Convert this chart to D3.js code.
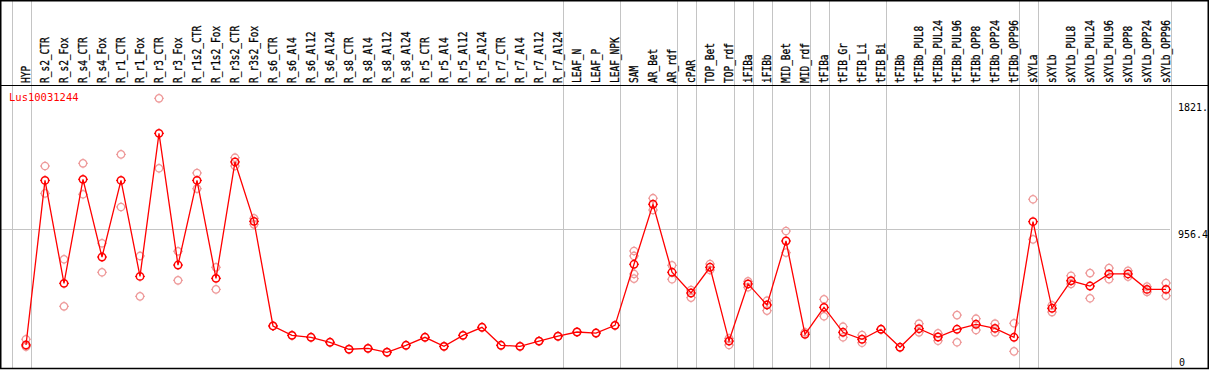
<!DOCTYPE html>
<html><head><meta charset="utf-8">
<script src="https://cdn.jsdelivr.net/npm/d3@7"></script>
<style>
html,body{margin:0;padding:0;background:#fff;}
svg{display:block;}
text{font-family:"DejaVu Sans Mono","Liberation Mono",monospace;}
</style></head>
<body>
<svg id="chart" width="1209" height="370"></svg>
<script>
const categories = ["HYP","R_s2_CTR","R_s2_Fox","R_s4_CTR","R_s4_Fox","R_r1_CTR","R_r1_Fox","R_r3_CTR","R_r3_Fox","R_r1s2_CTR","R_r1s2_Fox","R_r3s2_CTR","R_r3s2_Fox","R_s6_CTR","R_s6_Al4","R_s6_Al12","R_s6_Al24","R_s8_CTR","R_s8_Al4","R_s8_Al12","R_s8_Al24","R_r5_CTR","R_r5_Al4","R_r5_Al12","R_r5_Al24","R_r7_CTR","R_r7_Al4","R_r7_Al12","R_r7_Al24","LEAF_N","LEAF_P","LEAF_NPK","SAM","AR_Bet","AR_rdf","cPAR","TOP_Bet","TOP_rdf","iFIBa","iFIBb","MID_Bet","MID_rdf","tFIBa","tFIB_Gr","tFIB_Li","tFIB_Bi","tFIBb","tFIBb_PUL8","tFIBb_PUL24","tFIBb_PUL96","tFIBb_OPP8","tFIBb_OPP24","tFIBb_OPP96","sXYLa","sXYLb","sXYLb_PUL8","sXYLb_PUL24","sXYLb_PUL96","sXYLb_OPP8","sXYLb_OPP24","sXYLb_OPP96"];

const means = [189,1278,597,1285,771,1278,643,1589,718,1278,630,1400,1007,315,253,240,207,161,167,141,187,240,180,253,306,187,180,215,247,275,268,319,723,1120,670,533,703,215,593,454,877,260,438,273,227,293,174,297,242,293,326,299,240,1005,432,614,579,659,659,557,557];

const replicates = [[227,178],[1373,1192],[756,445],[1391,1186],[862,670],[1450,1102],[778,511],[1821,1358],[809,617],[1327,1223],[703,557],[1428,1373],[1027,987],[315],[253],[240],[207],[161],[167],[141],[187],[240],[180],[253],[306],[187],[180],[215],[247],[275],[268],[319],[811,778,659,628],[1160,1082],[716,624],[553,502],[725,685],[189,233],[610,571],[482,416],[943,800],[273],[491,379],[310,240],[255,204],[293],[174],[330,273],[266,217],[387,207],[363,288],[330,273],[333,147],[1153,888],[452,407],[647,593],[665,498],[698,624],[680,641],[575,540],[599,515]];

const groupEnds = [-1,0,28,31,34,35,37,38,39,41,42,45,52,53,60];
const yTickLabels = ["1821.","956.4","0"];
const yTickValues = [1821,956.4,91.8];
const geneName = "Lus10031244";

const svg = d3.select("#chart");
const x = d3.scalePoint().domain(categories).range([26,1166]);
const y = d3.scaleLinear().domain([91.8,1821]).range([359.7,98.3]);
const step = x.step();

// separators
svg.append("g").selectAll("line").data(groupEnds).join("line")
  .attr("x1", i => Math.round(x(categories[0]) + step*i + 4.5) + 0.5)
  .attr("x2", i => Math.round(x(categories[0]) + step*i + 4.5) + 0.5)
  .attr("y1", 0).attr("y2", 369)
  .attr("stroke", "#c4c4c4").attr("stroke-width", 1);

// horizontal mid grid line
svg.append("line").attr("x1",1).attr("x2",1170)
  .attr("y1", Math.round(y(956.4))+0.5).attr("y2", Math.round(y(956.4))+0.5)
  .attr("stroke","#c4c4c4").attr("stroke-width",1);

// frame
svg.append("rect").attr("x",0.75).attr("y",0.75).attr("width",1207.5).attr("height",367.75)
  .attr("fill","none").attr("stroke","#000").attr("stroke-width",1.5);
svg.append("line").attr("x1",0).attr("x2",1209).attr("y1",85.5).attr("y2",85.5)
  .attr("stroke","#000").attr("stroke-width",1.2);

// category labels
svg.append("g").selectAll("text").data(categories).join("text")
  .attr("transform", d => `translate(${x(d)+4},83) rotate(-90) scale(0.95,1.2)`)
  .attr("font-size", 10).attr("fill","#000")
  .attr("stroke","#000").attr("stroke-width",0.25)
  .text(d => d);

// y labels
const yOff = [13, 8.5, 5.5];
svg.append("g").selectAll("text").data(yTickValues).join("text")
  .attr("x", (d,i) => i===2 ? 1179 : 1178)
  .attr("y", (d,i) => Math.round(y(d)) + yOff[i])
  .attr("font-size", 10).attr("fill","#000")
  .text((d,i) => yTickLabels[i]);

// gene name
svg.append("text").attr("x",9).attr("y",101).attr("font-size",10.5)
  .attr("fill","#ff0000").text(geneName);

function marker(g, color, sw){
  g.append("circle").attr("r",3.7).attr("fill","none").attr("stroke",color).attr("stroke-width",sw);
  g.append("path").attr("d","M0,-5V-4M0,4V5M-5,0H-4M4,0H5")
    .attr("stroke",color).attr("stroke-width",1);
}

// replicate points
const repPts = [];
replicates.forEach((arr,i) => arr.forEach(v => repPts.push({c:categories[i], v})));
svg.append("g").selectAll("g").data(repPts).join("g")
  .attr("transform", d => `translate(${x(d.c)},${y(d.v)})`)
  .each(function(){ marker(d3.select(this), "#ee9a9a", 1.3); });

// line
const line = d3.line().x((d,i) => x(categories[i])).y(d => y(d));
svg.append("path").datum(means).attr("d", line)
  .attr("fill","none").attr("stroke","#ff0000").attr("stroke-width",1.3);

// main points
svg.append("g").selectAll("g").data(means).join("g")
  .attr("transform", (d,i) => `translate(${x(categories[i])},${y(d)})`)
  .each(function(){ marker(d3.select(this), "#ff0000", 1.5); });
</script>
</body></html>
